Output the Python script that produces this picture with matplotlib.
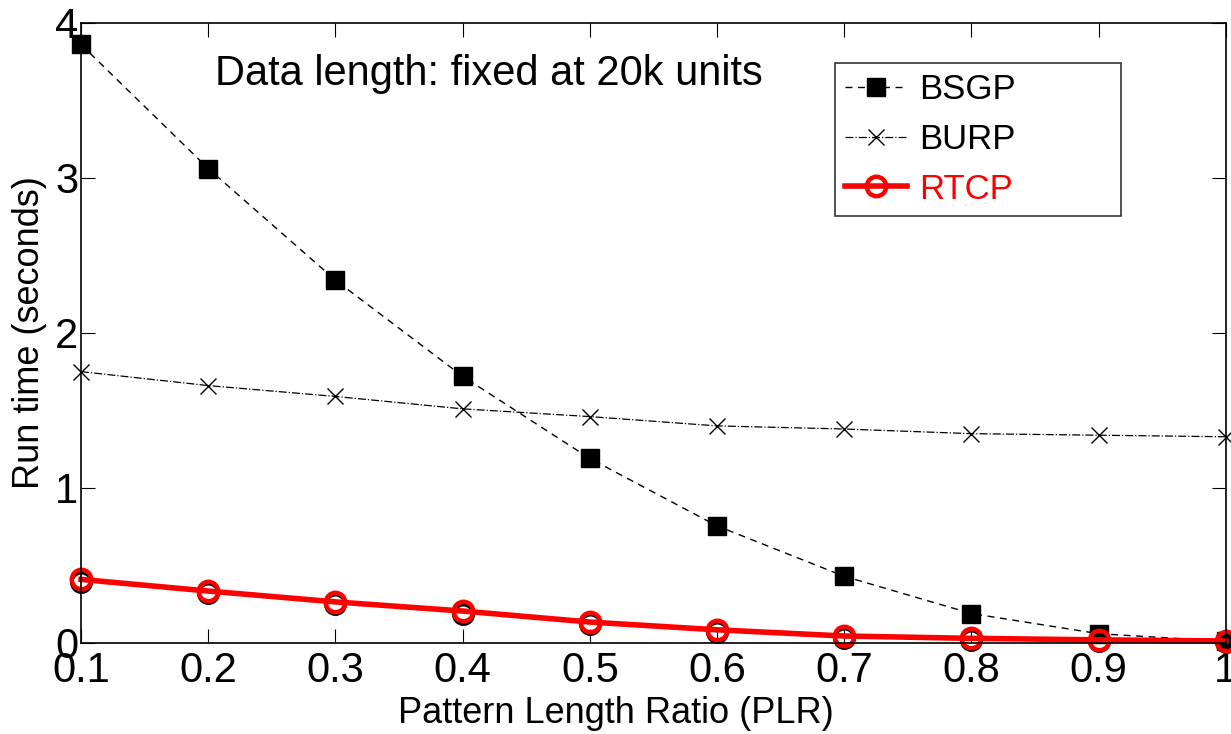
import matplotlib
matplotlib.use("Agg")
import matplotlib.pyplot as plt

plr = [0.1, 0.2, 0.3, 0.4, 0.5, 0.6, 0.7, 0.8, 0.9, 1.0]
bsgp = [3.86, 3.06, 2.34, 1.72, 1.19, 0.755, 0.43, 0.19, 0.06, 0.01]
burp = [1.75, 1.66, 1.59, 1.51, 1.46, 1.40, 1.38, 1.35, 1.34, 1.33]
rtcp = [0.41, 0.335, 0.265, 0.206, 0.135, 0.085, 0.045, 0.03, 0.02, 0.013]
rtcp_hidden = [0.395, 0.32, 0.25, 0.19, 0.122, 0.073, 0.033, 0.02, 0.01, 0.005]
xtick_labels = ['0.1', '0.2', '0.3', '0.4', '0.5', '0.6', '0.7', '0.8', '0.9', '1']
ytick_vals = [0, 1, 2, 3, 4]

plt.rcParams['font.family'] = ['Liberation Sans', 'DejaVu Sans']

fig = plt.figure(figsize=(12.31, 7.34), dpi=100)
ax = fig.add_axes([0.0658, 0.124, 0.930, 0.845])

ax.plot(plr, bsgp, 'k--s', lw=1.0, ms=13, dashes=(5, 4), clip_on=False, label='BSGP')
ax.plot(plr, burp, 'k-.x', lw=0.9, ms=12, mew=1.0, clip_on=False, label='BURP')
ax.plot(plr, rtcp_hidden, 'o', ls='none', mfc='none', mec='black', ms=14, mew=2.5,
        clip_on=False)
ax.plot(plr, rtcp, '-o', color='red', lw=4, ms=14, mfc='none', mew=3.2,
        clip_on=False, label='RTCP')

ax.set_xlim(0.1, 1.0)
ax.set_ylim(0, 4)
ax.set_xticks(plr)
ax.set_xticklabels(xtick_labels, fontsize=30)
ax.set_yticks(ytick_vals)
ax.set_yticklabels([str(v) for v in ytick_vals], fontsize=30)
ax.tick_params(direction='in', length=10, width=0.8, top=True, right=True)
ax.tick_params(axis='x', pad=6)
ax.tick_params(axis='y', pad=2)
for s in ax.spines.values():
    s.set_linewidth(1.2)

ax.set_xlabel('Pattern Length Ratio (PLR)', fontsize=26)
ax.xaxis.set_label_coords(0.467, -0.086)
ax.set_ylabel('Run time (seconds)', fontsize=26)
ax.yaxis.set_label_coords(-0.03, 0.5)

ax.text(0.205, 3.60, 'Data length: fixed at 20k units', fontsize=30,
        va='baseline', ha='left')

leg = ax.legend(loc='upper left', bbox_to_anchor=(0.6585, 0.5, 0.2497, 0.4355),
                mode='expand', borderaxespad=0, fontsize=25, frameon=True,
                fancybox=False, edgecolor='black', handlelength=1.79,
                handletextpad=0.35, borderpad=0.3, labelspacing=0.48)
leg.get_frame().set_linewidth(1.2)
leg.get_texts()[2].set_color('red')

fig.savefig('out.png', dpi=100)
